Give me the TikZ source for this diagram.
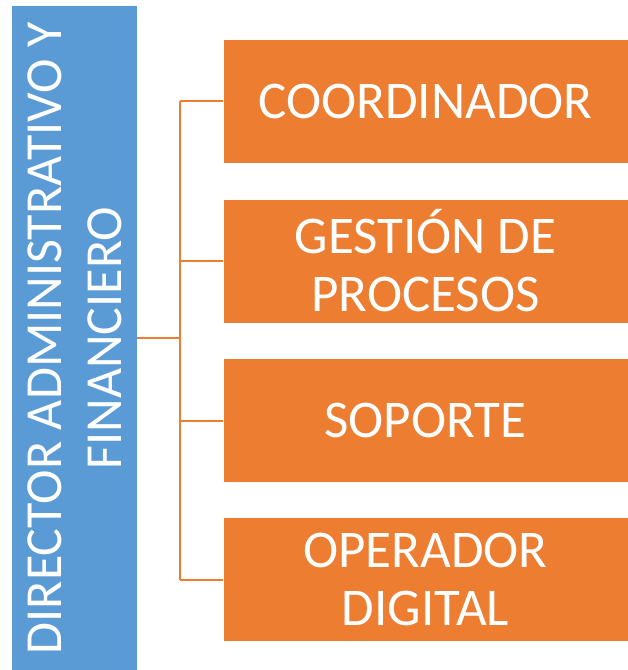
\documentclass[tikz,border=0pt]{standalone}
\usepackage{fontspec}
\setmainfont{Carlito}
\definecolor{dirblue}{HTML}{5B9BD5}
\definecolor{orgorange}{HTML}{ED7D31}
\begin{document}
\begin{tikzpicture}[x=1pt,y=-1pt,
  dirbox/.style={fill=dirblue, draw=none, text=white, align=center, inner sep=0pt,
    font=\fontsize{52}{60}\selectfont},
  unitbox/.style={fill=orgorange, draw=white, line width=0.6pt, text=white, align=center,
    inner sep=0pt, minimum width=405pt, minimum height=124pt,
    font=\fontsize{53}{58}\selectfont},
  conn/.style={draw=orgorange, line width=2pt}]
\useasboundingbox (0,0) rectangle (628,670);
\node[dirbox, rotate=90, minimum width=664pt, minimum height=125pt] (dir) at (74.5,338)
  {DIRECTOR ADMINISTRATIVO Y\\FINANCIERO};
\node[unitbox] (b1) at (425.5,101) {COORDINADOR};
\node[unitbox] (b2) at (425.5,261) {GESTIÓN DE\\PROCESOS};
\node[unitbox] (b3) at (425.5,420.5) {SOPORTE};
\node[unitbox] (b4) at (425.5,579.5) {OPERADOR\\DIGITAL};
\coordinate (j) at (180,338);
\draw[conn] (dir.south) -- (j);
\draw[conn] (j |- b1.west) -- (j |- b4.west);
\foreach \b in {b1,b2,b3,b4}{\draw[conn] (j |- \b.west) -- (\b.west);}
\end{tikzpicture}
\end{document}
